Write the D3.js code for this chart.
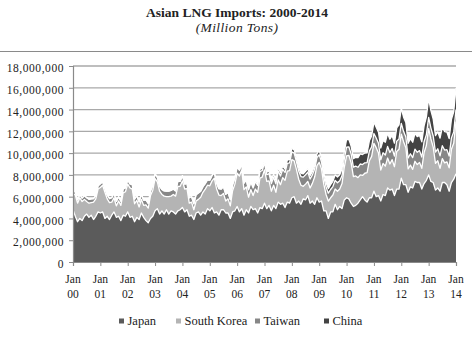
<!DOCTYPE html>
<html>
<head>
<meta charset="utf-8">
<script src="https://cdn.jsdelivr.net/npm/d3@7"></script>
<style>
  html, body { margin: 0; padding: 0; background: #fff; }
  svg { display: block; }
  text { font-family: "Liberation Serif", "DejaVu Serif", serif; fill: #222; }
</style>
</head>
<body>
<svg id="chart" width="472" height="340"></svg>
<script>
// ---- Data (million tons per month, Jan 2000 .. Jan 2014) ----
const seriesNames = ["Japan", "South Korea", "Taiwan", "China"];
const yearTickLabels = ["00","01","02","03","04","05","06","07","08","09","10","11","12","13","14"];
const yTickValues = [0, 2e6, 4e6, 6e6, 8e6, 10e6, 12e6, 14e6, 16e6, 18e6];

const japan = [
  4.8, 4.2, 3.7, 4.0, 3.8, 4.2, 4.4, 4.1, 4.3, 3.9, 4.2, 4.6,
  4.5, 4.6, 4.0, 4.2, 3.9, 4.3, 4.6, 4.1, 4.2, 3.8, 4.3, 4.2,
  4.6, 4.1, 4.2, 3.7, 4.1, 3.9, 4.5, 4.1, 3.8, 3.6, 4.0, 4.2,
  4.7, 4.9, 4.4, 4.7, 4.4, 4.8, 4.4, 4.7, 4.6, 4.4, 4.7, 4.8,
  5.0, 4.6, 4.8, 4.2, 4.3, 3.9, 4.5, 4.6, 4.3, 4.6, 4.4, 4.9,
  4.7, 5.0, 4.5, 4.6, 4.3, 4.8, 4.8, 4.5, 4.5, 4.0, 4.6, 4.7,
  5.1, 4.6, 4.9, 4.3, 4.8, 4.5, 5.1, 4.8, 4.9, 4.5, 5.0, 4.9,
  5.4, 4.9, 5.2, 4.7, 5.2, 4.9, 5.5, 5.3, 5.4, 5.0, 5.5, 5.4,
  5.9, 6.0, 5.4, 5.6, 5.3, 5.8, 5.7, 6.1, 5.4, 5.6, 5.3, 5.9,
  5.5, 5.6, 4.7, 4.7, 4.0, 4.6, 4.6, 5.3, 4.8, 5.1, 4.9, 5.7,
  5.9, 5.8, 5.4, 5.1, 5.2, 5.4, 5.7, 6.0, 5.7, 5.5, 5.9, 5.9,
  6.5, 6.0, 6.1, 5.6, 6.2, 6.1, 6.8, 6.6, 6.7, 6.1, 6.7, 6.7,
  7.7, 7.1, 7.1, 6.4, 6.9, 6.8, 7.4, 7.3, 7.3, 6.7, 7.2, 7.5,
  8.0, 7.4, 7.3, 6.6, 6.8, 6.5, 7.3, 7.3, 7.1, 6.5, 7.3, 7.6,
  8.1
];
const southKorea = [
  1.50, 1.95, 1.70, 1.90, 1.75, 1.55, 1.15, 1.30, 1.15, 1.60, 1.60, 2.10,
  2.35, 2.45, 2.40, 1.60, 1.55, 1.20, 1.30, 1.05, 1.40, 1.40, 2.05, 2.25,
  2.55, 2.70, 2.50, 1.65, 1.55, 1.15, 1.25, 1.10, 1.45, 1.35, 2.10, 2.40,
  2.95, 2.45, 2.10, 1.50, 1.65, 1.20, 1.60, 1.35, 1.60, 1.65, 2.25, 2.15,
  2.45, 2.10, 1.95, 1.20, 1.20, 0.90, 1.10, 1.15, 1.65, 1.80, 2.30, 2.15,
  2.30, 2.45, 3.20, 2.10, 1.85, 1.30, 1.50, 1.10, 1.30, 1.15, 1.95, 2.45,
  3.05, 3.30, 3.55, 2.35, 2.10, 1.45, 1.55, 1.30, 1.80, 1.90, 2.70, 2.90,
  3.05, 2.50, 2.25, 1.80, 1.85, 1.50, 2.05, 1.80, 2.35, 2.50, 2.85, 3.00,
  3.50, 3.30, 3.10, 2.00, 1.75, 1.15, 1.45, 1.30, 1.40, 1.62, 2.50, 2.95,
  3.65, 2.95, 2.45, 1.50, 1.60, 1.30, 1.55, 1.40, 1.70, 1.60, 2.30, 3.00,
  3.85, 4.00, 3.70, 2.75, 2.70, 2.35, 2.30, 1.95, 2.45, 2.70, 3.40, 3.80,
  4.40, 4.50, 3.90, 2.85, 2.85, 2.70, 2.75, 2.40, 2.70, 2.65, 3.45, 3.65,
  4.05, 3.95, 3.40, 2.15, 2.00, 1.70, 1.85, 1.65, 1.85, 1.90, 2.85, 3.20,
  4.25, 3.90, 3.25, 2.45, 2.50, 2.10, 2.20, 1.80, 2.10, 2.15, 3.05, 3.30,
  4.80
];
const taiwan = [
  0.30, 0.28, 0.30, 0.30, 0.32, 0.35, 0.36, 0.36, 0.34, 0.32, 0.30, 0.30,
  0.34, 0.32, 0.34, 0.36, 0.38, 0.40, 0.42, 0.42, 0.40, 0.38, 0.36, 0.36,
  0.40, 0.38, 0.40, 0.42, 0.44, 0.46, 0.48, 0.48, 0.46, 0.44, 0.42, 0.42,
  0.44, 0.42, 0.44, 0.46, 0.48, 0.50, 0.52, 0.52, 0.50, 0.48, 0.46, 0.46,
  0.48, 0.46, 0.48, 0.50, 0.52, 0.55, 0.58, 0.58, 0.55, 0.52, 0.50, 0.50,
  0.52, 0.50, 0.52, 0.55, 0.58, 0.60, 0.62, 0.62, 0.60, 0.58, 0.55, 0.55,
  0.58, 0.55, 0.58, 0.60, 0.64, 0.68, 0.70, 0.70, 0.68, 0.64, 0.60, 0.60,
  0.65, 0.62, 0.66, 0.70, 0.74, 0.78, 0.80, 0.80, 0.76, 0.72, 0.70, 0.70,
  0.72, 0.70, 0.72, 0.76, 0.80, 0.84, 0.86, 0.86, 0.82, 0.78, 0.74, 0.74,
  0.70, 0.66, 0.68, 0.70, 0.72, 0.76, 0.78, 0.80, 0.78, 0.76, 0.74, 0.76,
  0.80, 0.78, 0.82, 0.86, 0.90, 0.95, 1.00, 1.00, 0.96, 0.92, 0.88, 0.88,
  0.90, 0.88, 0.90, 0.94, 0.98, 1.02, 1.06, 1.06, 1.02, 0.98, 0.95, 0.95,
  0.98, 0.95, 0.98, 1.00, 1.04, 1.08, 1.12, 1.12, 1.08, 1.04, 1.00, 1.00,
  1.02, 1.00, 1.02, 1.05, 1.10, 1.15, 1.18, 1.18, 1.12, 1.08, 1.05, 1.05,
  1.10
];
const china = [
  0, 0, 0, 0, 0, 0, 0, 0, 0, 0, 0, 0,
  0, 0, 0, 0, 0, 0, 0, 0, 0, 0, 0, 0,
  0, 0, 0, 0, 0, 0, 0, 0, 0, 0, 0, 0,
  0, 0, 0, 0, 0, 0, 0, 0, 0, 0, 0, 0,
  0, 0, 0, 0, 0, 0, 0, 0, 0, 0, 0, 0,
  0, 0, 0, 0, 0, 0, 0, 0, 0, 0, 0, 0,
  0, 0, 0, 0, 0, 0.05, 0.10, 0.12, 0.15, 0.18, 0.20, 0.22,
  0.25, 0.22, 0.24, 0.26, 0.28, 0.30, 0.30, 0.30, 0.30, 0.30, 0.30, 0.32,
  0.32, 0.30, 0.30, 0.30, 0.30, 0.30, 0.32, 0.32, 0.30, 0.30, 0.30, 0.35,
  0.38, 0.36, 0.38, 0.40, 0.42, 0.45, 0.48, 0.50, 0.52, 0.55, 0.60, 0.65,
  0.70, 0.68, 0.72, 0.78, 0.82, 0.88, 0.92, 0.92, 0.90, 0.90, 0.95, 1.00,
  1.05, 1.00, 1.02, 1.08, 1.12, 1.18, 1.22, 1.22, 1.20, 1.18, 1.22, 1.30,
  1.40, 1.30, 1.32, 1.35, 1.38, 1.42, 1.45, 1.45, 1.40, 1.40, 1.45, 1.60,
  1.75, 1.60, 1.55, 1.50, 1.55, 1.62, 1.68, 1.70, 1.62, 1.60, 1.70, 1.85,
  2.00
];
const seriesColors = ["#5b5b5b", "#b4b4b4", "#878787", "#434343"];

// ---- Build table ----
const keys = ["japan", "southKorea", "taiwan", "china"];
const rows = japan.map((v, i) => ({
  month: i,
  japan: v * 1e6,
  southKorea: southKorea[i] * 1e6,
  taiwan: taiwan[i] * 1e6,
  china: china[i] * 1e6
}));

const svg = d3.select("#chart");
const W = 472, H = 340;
const m = { left: 73, right: 16, top: 66, bottom: 78 };
const x = d3.scaleLinear().domain([0, 168]).range([m.left, W - m.right]);
const y = d3.scaleLinear().domain([0, 18e6]).range([H - m.bottom, m.top]);

// Title
svg.append("text").attr("x", 237).attr("y", 16.5).attr("text-anchor", "middle")
  .attr("font-size", 13.5).attr("font-weight", "bold").attr("fill", "#111")
  .text("Asian LNG Imports: 2000-2014");
svg.append("text").attr("x", 237).attr("y", 31.5).attr("text-anchor", "middle")
  .attr("font-size", 13.5).attr("font-style", "italic").attr("letter-spacing", 0.4).attr("fill", "#111")
  .text("(Million Tons)");
svg.append("line").attr("x1", 0).attr("x2", W).attr("y1", 51.5).attr("y2", 51.5)
  .attr("stroke", "#8a8a8a").attr("stroke-width", 1);

// Gridlines
svg.append("g").selectAll("line").data(yTickValues.filter(d => d > 0)).join("line")
  .attr("x1", x(0)).attr("x2", x(168))
  .attr("y1", d => y(d)).attr("y2", d => y(d))
  .attr("stroke", "#a9a9a9").attr("stroke-width", 1.3);

// Stacked areas (fill) + white separator lines on each layer's top edge
const stack = d3.stack().keys(keys);
const stacked = stack(rows);
const area = d3.area()
  .x(d => x(d.data.month))
  .y0(d => y(d[0]))
  .y1(d => y(d[1]));
const topLine = d3.line()
  .x(d => x(d.data.month))
  .y(d => y(d[1]));
svg.append("g").selectAll("path").data(stacked).join("path")
  .attr("d", area)
  .attr("fill", (d, i) => seriesColors[i]);
svg.append("g").selectAll("path").data(stacked).join("path")
  .attr("d", topLine)
  .attr("fill", "none")
  .attr("stroke", "#ffffff").attr("stroke-width", 1.3).attr("stroke-linejoin", "round");

// Y axis
const yAxis = d3.axisLeft(y).tickValues(yTickValues).tickSize(4).tickPadding(5)
  .tickFormat(d3.format(",.0f"));
const gy = svg.append("g").attr("transform", `translate(${m.left},0)`).call(yAxis);
gy.select(".domain").attr("stroke", "#8a8a8a").attr("stroke-width", 1.2);
gy.selectAll(".tick line").attr("stroke", "#8a8a8a");
gy.selectAll(".tick text").attr("font-size", 11.5).attr("letter-spacing", 0.55)
  .attr("dy", "0.5em").attr("font-family", "Liberation Serif, serif").attr("fill", "#222");

// X axis
const xAxis = d3.axisBottom(x).tickValues(d3.range(0, 169, 12)).tickSize(4).tickFormat("");
const gx = svg.append("g").attr("transform", `translate(0,${y(0)})`).call(xAxis);
gx.select(".domain").attr("stroke", "#8a8a8a").attr("stroke-width", 1.2);
gx.selectAll(".tick line").attr("stroke", "#8a8a8a");
const xl = svg.append("g").selectAll("text").data(yearTickLabels).join("text")
  .attr("x", (d, i) => x(i * 12)).attr("y", 283)
  .attr("text-anchor", "middle").attr("font-size", 11.5).attr("fill", "#222");
xl.append("tspan").attr("x", (d, i) => x(i * 12)).attr("dy", 0).text("Jan");
xl.append("tspan").attr("x", (d, i) => x(i * 12)).attr("dy", 14.5).text(d => d);

// Legend
const legendX = [119, 176, 255, 324];
const lg = svg.append("g").selectAll("g").data(seriesNames).join("g")
  .attr("transform", (d, i) => `translate(${legendX[i]},324.5)`);
lg.append("rect").attr("x", 0).attr("y", -6).attr("width", 5).attr("height", 5)
  .attr("fill", (d, i) => seriesColors[i]);
lg.append("text").attr("x", 8.5).attr("y", 0).attr("font-size", 12.5).attr("fill", "#333").text(d => d);
</script>
</body>
</html>
